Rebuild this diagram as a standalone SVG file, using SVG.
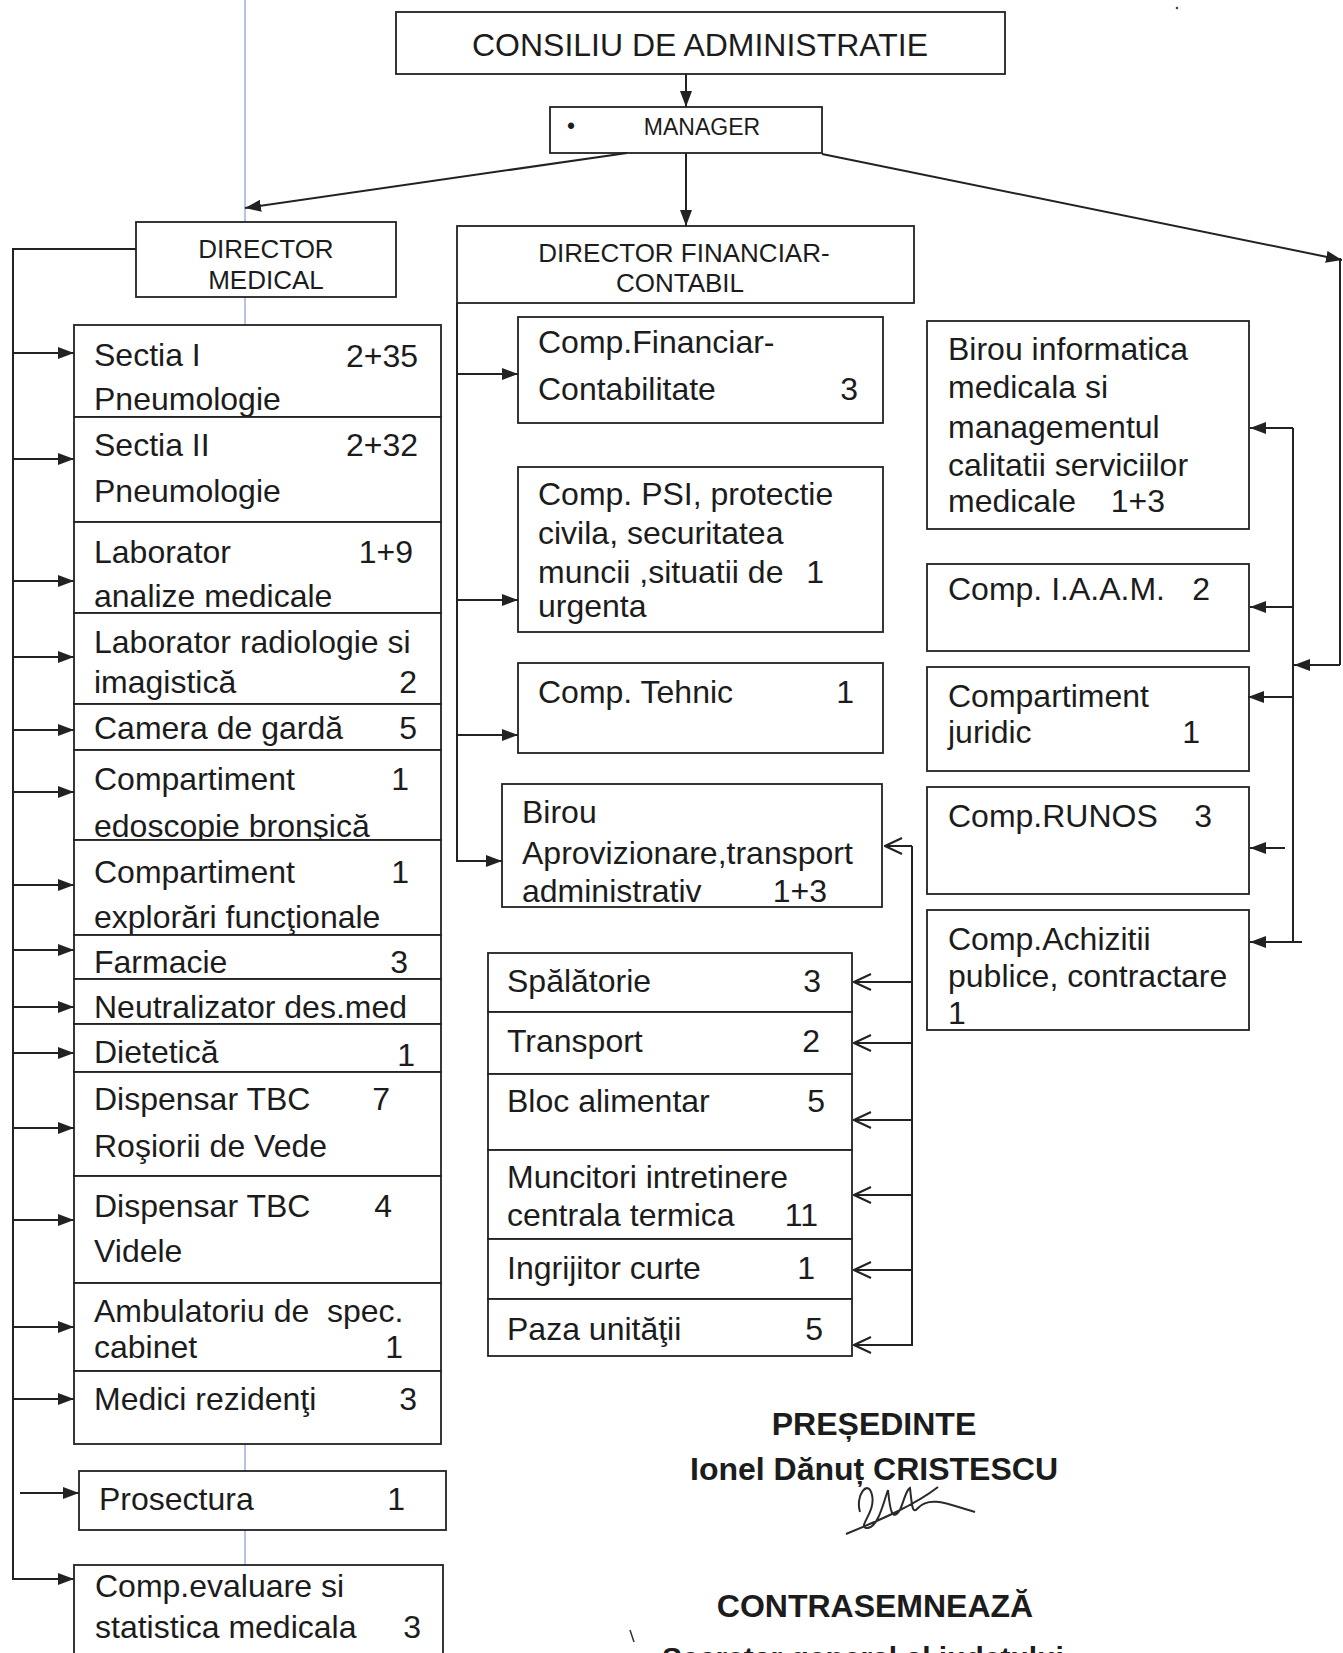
<svg xmlns="http://www.w3.org/2000/svg" width="1343" height="1653" viewBox="0 0 1343 1653">
<style>
.b{fill:#fff;stroke:#222;stroke-width:1.8}
.t{font-family:"Liberation Sans",Arial,sans-serif;font-size:32px;fill:#1c1c1c}
.m{font-size:26px}
.s23{font-size:23px}
.e{text-anchor:end}
.mid{text-anchor:middle}
.h{font-family:"Liberation Sans",Arial,sans-serif;font-size:32px;font-weight:bold;fill:#1c1c1c;text-anchor:middle}
.c line,.c path{stroke:#222;stroke-width:2;fill:none}
.fa{marker-end:url(#a)}
.ch{marker-end:url(#v)}
</style>
<defs>
<marker id="a" viewBox="0 0 16 12" refX="16" refY="6" markerWidth="16" markerHeight="12" markerUnits="userSpaceOnUse" orient="auto"><path d="M0,0 L16,6 L0,12 z" fill="#222"/></marker>
<marker id="v" viewBox="0 0 20 18" refX="19" refY="9" markerWidth="20" markerHeight="18" markerUnits="userSpaceOnUse" orient="auto"><path d="M2,1 L19,9 L2,17" fill="none" stroke="#222" stroke-width="2"/></marker>
</defs>
<rect width="1343" height="1653" fill="#fff"/>
<line x1="245" y1="0" x2="245" y2="1653" stroke="#b7c3e4" stroke-width="2"/>
<circle cx="1177" cy="8" r="1.3" fill="#444"/>

<g id="consiliu"><rect class="b" x="396" y="12" width="609" height="62"/><text class="t mid" x="700" y="56" style="font-size:31px" textLength="456" lengthAdjust="spacingAndGlyphs">CONSILIU DE ADMINISTRATIE</text></g>
<g id="manager"><rect class="b" x="550" y="107" width="272" height="46"/><text class="t s23" x="567" y="134">•</text><text class="t s23 mid" x="702" y="135">MANAGER</text></g>
<g id="director-medical"><rect class="b" x="136" y="222" width="260" height="75"/><text class="t m mid" x="266" y="258">DIRECTOR</text><text class="t m mid" x="266" y="289">MEDICAL</text></g>
<g id="director-financiar"><rect class="b" x="457" y="226" width="457" height="77"/><text class="t m mid" x="684" y="262">DIRECTOR FINANCIAR-</text><text class="t m mid" x="680" y="292">CONTABIL</text></g>

<g id="sectia1"><rect class="b" x="74" y="325" width="367" height="92"/><text class="t" x="94" y="366">Sectia I</text><text class="t e" x="418" y="367">2+35</text><text class="t" x="94" y="410">Pneumologie</text></g>
<g id="sectia2"><rect class="b" x="74" y="417" width="367" height="105"/><text class="t" x="94" y="456">Sectia II</text><text class="t e" x="418" y="456">2+32</text><text class="t" x="94" y="502">Pneumologie</text></g>
<g id="laborator"><rect class="b" x="74" y="522" width="367" height="91"/><text class="t" x="94" y="563">Laborator</text><text class="t e" x="413" y="563">1+9</text><text class="t" x="94" y="607">analize medicale</text></g>
<g id="radiologie"><rect class="b" x="74" y="613" width="367" height="91"/><text class="t" x="94" y="653">Laborator radiologie si</text><text class="t" x="94" y="693">imagistică</text><text class="t e" x="417" y="693">2</text></g>
<g id="camera"><rect class="b" x="74" y="704" width="367" height="46"/><text class="t" x="94" y="739">Camera de gardă</text><text class="t e" x="417" y="739">5</text></g>
<g id="endoscopie"><rect class="b" x="74" y="750" width="367" height="90"/><text class="t" x="94" y="790">Compartiment</text><text class="t e" x="409" y="790">1</text><text class="t" x="94" y="837">edoscopie bronşică</text></g>
<g id="explorari"><rect class="b" x="74" y="840" width="367" height="95"/><text class="t" x="94" y="883">Compartiment</text><text class="t e" x="409" y="883">1</text><text class="t" x="94" y="928">explorări funcţionale</text></g>
<g id="farmacie"><rect class="b" x="74" y="935" width="367" height="44"/><text class="t" x="94" y="973">Farmacie</text><text class="t e" x="408" y="973">3</text></g>
<g id="neutralizator"><rect class="b" x="74" y="979" width="367" height="45"/><text class="t" x="94" y="1018">Neutralizator des.med</text></g>
<g id="dietetica"><rect class="b" x="74" y="1024" width="367" height="48"/><text class="t" x="94" y="1063">Dietetică</text><text class="t e" x="415" y="1066">1</text></g>
<g id="dispensar-rosiori"><rect class="b" x="74" y="1072" width="367" height="104"/><text class="t" x="94" y="1110">Dispensar TBC</text><text class="t e" x="390" y="1110">7</text><text class="t" x="94" y="1157">Roşiorii de Vede</text></g>
<g id="dispensar-videle"><rect class="b" x="74" y="1176" width="367" height="107"/><text class="t" x="94" y="1217">Dispensar TBC</text><text class="t e" x="392" y="1217">4</text><text class="t" x="94" y="1262">Videle</text></g>
<g id="ambulatoriu"><rect class="b" x="74" y="1283" width="367" height="88"/><text class="t" x="94" y="1322" xml:space="preserve">Ambulatoriu de  spec.</text><text class="t" x="94" y="1358">cabinet</text><text class="t e" x="403" y="1358">1</text></g>
<g id="medici"><rect class="b" x="74" y="1371" width="367" height="73"/><text class="t" x="94" y="1410">Medici rezidenţi</text><text class="t e" x="417" y="1410">3</text></g>
<g id="prosectura"><rect class="b" x="79" y="1471" width="367" height="59"/><text class="t" x="99" y="1510">Prosectura</text><text class="t e" x="405" y="1510">1</text></g>
<g id="evaluare"><rect class="b" x="74" y="1565" width="369" height="100"/><text class="t" x="95" y="1597">Comp.evaluare si</text><text class="t" x="95" y="1638">statistica medicala</text><text class="t e" x="421" y="1638">3</text></g>

<g id="financiar-contabilitate"><rect class="b" x="518" y="317" width="365" height="106"/><text class="t" x="538" y="353">Comp.Financiar-</text><text class="t" x="538" y="400">Contabilitate</text><text class="t e" x="858" y="400">3</text></g>
<g id="psi"><rect class="b" x="518" y="467" width="365" height="165"/><text class="t" x="538" y="505">Comp. PSI, protectie</text><text class="t" x="538" y="544">civila, securitatea</text><text class="t" x="538" y="583">muncii ,situatii de</text><text class="t e" x="824" y="583">1</text><text class="t" x="538" y="617">urgenta</text></g>
<g id="tehnic"><rect class="b" x="518" y="663" width="365" height="90"/><text class="t" x="538" y="703">Comp. Tehnic</text><text class="t e" x="854" y="703">1</text></g>
<g id="aprovizionare"><rect class="b" x="502" y="784" width="380" height="123"/><text class="t" x="522" y="823">Birou</text><text class="t" x="522" y="864">Aprovizionare,transport</text><text class="t" x="522" y="902">administrativ</text><text class="t e" x="827" y="902">1+3</text></g>
<g id="spalatorie"><rect class="b" x="488" y="953" width="364" height="59"/><text class="t" x="507" y="992">Spălătorie</text><text class="t e" x="821" y="992">3</text></g>
<g id="transport"><rect class="b" x="488" y="1012" width="364" height="62"/><text class="t" x="507" y="1052">Transport</text><text class="t e" x="820" y="1052">2</text></g>
<g id="bloc"><rect class="b" x="488" y="1074" width="364" height="76"/><text class="t" x="507" y="1112">Bloc alimentar</text><text class="t e" x="825" y="1112">5</text></g>
<g id="muncitori"><rect class="b" x="488" y="1150" width="364" height="89"/><text class="t" x="507" y="1188">Muncitori intretinere</text><text class="t" x="507" y="1226">centrala termica</text><text class="t e" x="818" y="1226">11</text></g>
<g id="ingrijitor"><rect class="b" x="488" y="1239" width="364" height="60"/><text class="t" x="507" y="1279">Ingrijitor curte</text><text class="t e" x="815" y="1279">1</text></g>
<g id="paza"><rect class="b" x="488" y="1299" width="364" height="57"/><text class="t" x="507" y="1340">Paza unităţii</text><text class="t e" x="823" y="1340">5</text></g>

<g id="informatica"><rect class="b" x="927" y="321" width="322" height="208"/><text class="t" x="948" y="360">Birou informatica</text><text class="t" x="948" y="398">medicala si</text><text class="t" x="948" y="438">managementul</text><text class="t" x="948" y="476">calitatii serviciilor</text><text class="t" x="948" y="512">medicale</text><text class="t e" x="1165" y="512">1+3</text></g>
<g id="iaam"><rect class="b" x="927" y="564" width="322" height="87"/><text class="t" x="948" y="600">Comp. I.A.A.M.</text><text class="t e" x="1210" y="600">2</text></g>
<g id="juridic"><rect class="b" x="927" y="667" width="322" height="104"/><text class="t" x="948" y="707">Compartiment</text><text class="t" x="948" y="743">juridic</text><text class="t e" x="1200" y="743">1</text></g>
<g id="runos"><rect class="b" x="927" y="787" width="322" height="107"/><text class="t" x="948" y="827">Comp.RUNOS</text><text class="t e" x="1212" y="827">3</text></g>
<g id="achizitii"><rect class="b" x="927" y="910" width="322" height="120"/><text class="t" x="948" y="950">Comp.Achizitii</text><text class="t" x="948" y="987">publice, contractare</text><text class="t" x="948" y="1024">1</text></g>

<g id="connectors" class="c">
<line class="fa" x1="686" y1="74" x2="686" y2="107"/>
<line class="fa" x1="686" y1="153" x2="686" y2="226"/>
<line class="fa" x1="627" y1="153" x2="245" y2="208"/>
<line class="fa" x1="822" y1="154" x2="1342" y2="260"/>
<line x1="1340" y1="258" x2="1340" y2="665"/>
<line class="fa" x1="1340" y1="665" x2="1294" y2="665"/>
<line x1="1293" y1="428" x2="1293" y2="942"/>
<line class="fa" x1="1293" y1="428" x2="1250" y2="428"/>
<line class="fa" x1="1293" y1="607" x2="1250" y2="607"/>
<line class="fa" x1="1293" y1="697" x2="1248" y2="697"/>
<line class="fa" x1="1285" y1="848" x2="1250" y2="848"/>
<line class="fa" x1="1302" y1="942" x2="1250" y2="942"/>
<path d="M136,249 H13 V1579"/>
<line class="fa" x1="13" y1="353" x2="74" y2="353"/>
<line class="fa" x1="13" y1="459" x2="74" y2="459"/>
<line class="fa" x1="13" y1="581" x2="74" y2="581"/>
<line class="fa" x1="13" y1="657" x2="74" y2="657"/>
<line class="fa" x1="13" y1="730" x2="74" y2="730"/>
<line class="fa" x1="13" y1="792" x2="74" y2="792"/>
<line class="fa" x1="13" y1="885" x2="74" y2="885"/>
<line class="fa" x1="13" y1="950" x2="74" y2="950"/>
<line class="fa" x1="13" y1="1007" x2="74" y2="1007"/>
<line class="fa" x1="13" y1="1053" x2="74" y2="1053"/>
<line class="fa" x1="13" y1="1128" x2="74" y2="1128"/>
<line class="fa" x1="13" y1="1220" x2="74" y2="1220"/>
<line class="fa" x1="13" y1="1327" x2="74" y2="1327"/>
<line class="fa" x1="13" y1="1399" x2="74" y2="1399"/>
<line class="fa" x1="20" y1="1493" x2="79" y2="1493"/>
<line class="fa" x1="12" y1="1579" x2="74" y2="1579"/>
<path class="fa" d="M457,303 V861 H502"/>
<line class="fa" x1="457" y1="374" x2="518" y2="374"/>
<line class="fa" x1="457" y1="600" x2="518" y2="600"/>
<line class="fa" x1="457" y1="735" x2="518" y2="735"/>
<path d="M912,846 V1345"/>
<line class="ch" x1="912" y1="846" x2="885" y2="846"/>
<line class="ch" x1="912" y1="982" x2="854" y2="982"/>
<line class="ch" x1="912" y1="1043" x2="854" y2="1043"/>
<line class="ch" x1="912" y1="1120" x2="854" y2="1120"/>
<line class="ch" x1="912" y1="1195" x2="854" y2="1195"/>
<line class="ch" x1="912" y1="1270" x2="854" y2="1270"/>
<line class="ch" x1="913" y1="1345" x2="854" y2="1345"/>
</g>

<g id="semnaturi">
<text class="h" x="874" y="1435">PREȘEDINTE</text>
<text class="h" x="874" y="1480">Ionel Dănuț CRISTESCU</text>
<path d="M846,1534 C880,1520 915,1505 938,1487 M860,1512 C855,1496 868,1478 872,1495 C876,1512 858,1526 866,1528 C878,1530 884,1500 888,1490 C890,1510 892,1522 900,1510 C905,1498 906,1490 910,1488 C912,1505 912,1515 918,1508 C930,1495 950,1505 975,1512" fill="none" stroke="#2a2a2a" stroke-width="2"/>
<text class="h" x="875" y="1617">CONTRASEMNEAZĂ</text>
<line x1="630" y1="1630" x2="634" y2="1642" stroke="#333" stroke-width="1.5"/>
<text class="h" x="662" y="1668" style="font-size:30px;text-anchor:start">Secretar general al judetului</text>
</g>
</svg>
